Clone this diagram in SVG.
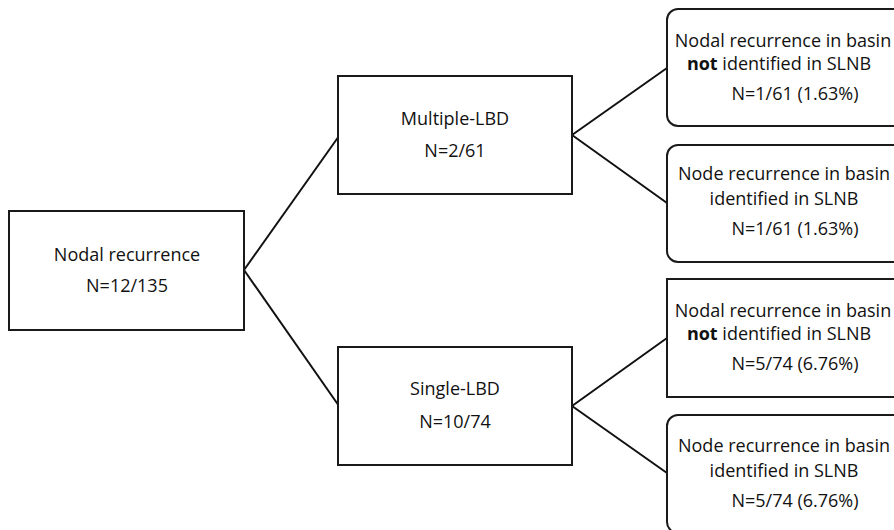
<svg xmlns="http://www.w3.org/2000/svg" width="894" height="530" viewBox="0 0 894 530">
<style>
.box{fill:#fff;stroke:#1a1a1a;stroke-width:2}
.conn{stroke:#111;stroke-width:2;fill:none}
text{font-family:"Open Sans","Noto Sans","Liberation Sans",sans-serif;font-size:18px;fill:#111;text-anchor:middle}
.b{font-weight:bold}
</style>
<rect width="894" height="530" fill="#fff"/>
<g id="connectors">
<line class="conn" x1="244" y1="270" x2="339" y2="136"/>
<line class="conn" x1="244" y1="270" x2="339" y2="406"/>
<line class="conn" x1="572" y1="135" x2="667" y2="68"/>
<line class="conn" x1="572" y1="135" x2="667" y2="203"/>
<line class="conn" x1="572" y1="406" x2="667" y2="338"/>
<line class="conn" x1="572" y1="406" x2="667" y2="473"/>
</g>
<g id="root">
<rect class="box" x="9" y="211" width="235" height="119"/>
<text x="127" y="261">Nodal recurrence</text>
<text x="127" y="292">N=12/135</text>
</g>
<g id="multiple">
<rect class="box" x="338" y="76" width="234" height="118"/>
<text x="455" y="125">Multiple-LBD</text>
<text x="455" y="157">N=2/61</text>
</g>
<g id="single">
<rect class="box" x="338" y="347" width="234" height="118"/>
<text x="455" y="395">Single-LBD</text>
<text x="455" y="428">N=10/74</text>
</g>
<g id="m-not">
<rect class="box" x="667" y="9" width="240" height="117" rx="11"/>
<text x="783" y="47">Nodal recurrence in basin</text>
<text x="779" y="70"><tspan class="b">not</tspan> identified in SLNB</text>
<text x="795" y="100">N=1/61 (1.63%)</text>
</g>
<g id="m-id">
<rect class="box" x="667" y="145" width="240" height="117" rx="11"/>
<text x="784" y="180">Node recurrence in basin</text>
<text x="784" y="205">identified in SLNB</text>
<text x="795" y="235">N=1/61 (1.63%)</text>
</g>
<g id="s-not">
<rect class="box" x="667" y="279" width="240" height="118"/>
<text x="783" y="317">Nodal recurrence in basin</text>
<text x="779" y="340"><tspan class="b">not</tspan> identified in SLNB</text>
<text x="795" y="370">N=5/74 (6.76%)</text>
</g>
<g id="s-id">
<rect class="box" x="667" y="415" width="240" height="118" rx="11"/>
<text x="784" y="452">Node recurrence in basin</text>
<text x="784" y="477">identified in SLNB</text>
<text x="795" y="507">N=5/74 (6.76%)</text>
</g>
</svg>
